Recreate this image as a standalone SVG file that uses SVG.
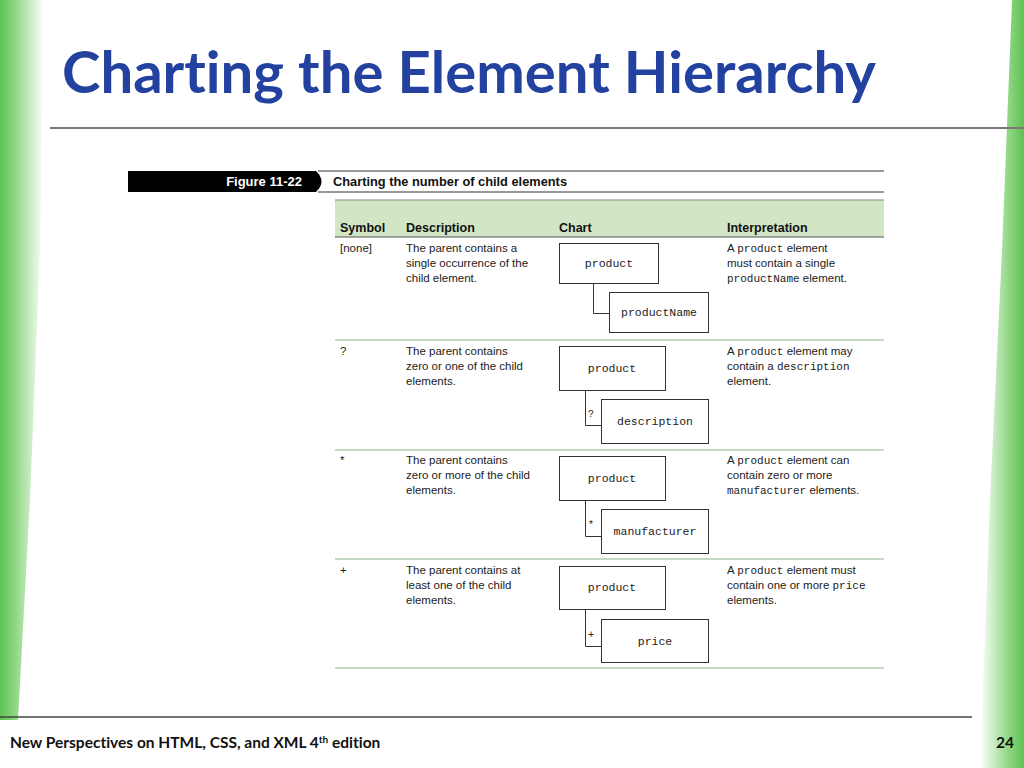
<svg xmlns="http://www.w3.org/2000/svg" width="1024" height="768" viewBox="0 0 1024 768">
<defs>
<linearGradient id="gl" x1="0" y1="0" x2="1" y2="0">
<stop offset="0" stop-color="#5cc24f"/><stop offset="0.35" stop-color="#8fd684"/><stop offset="1" stop-color="#ffffff"/>
</linearGradient>
<linearGradient id="gr" x1="1" y1="0" x2="0" y2="0">
<stop offset="0" stop-color="#5cc24f"/><stop offset="0.35" stop-color="#8fd684"/><stop offset="1" stop-color="#ffffff"/>
</linearGradient>
<style>
text{font-variant-ligatures:none}
.hd{font-family:"Liberation Sans",Arial,sans-serif;font-weight:bold;font-size:12.5px;fill:#111}
.tx{font-family:"Liberation Sans",Arial,sans-serif;font-size:11.5px;fill:#222}
.mn{font-family:"Liberation Mono","Courier New",monospace;font-size:11px;fill:#222}
.bm{font-family:"Liberation Mono","Courier New",monospace;font-size:11.5px;fill:#222;text-anchor:middle}
.box{fill:#fff;stroke:#333;stroke-width:1}
.con{fill:none;stroke:#333;stroke-width:1}
.lb{font-family:"Liberation Mono","Courier New",monospace;font-size:10px;fill:#222}
.sep{stroke:#c9d9c9;stroke-width:2}
</style>
</defs>
<rect width="1024" height="768" fill="#fff"/>
<polygon points="0,0 44,0 40,250 30,500 18,720 0,720" fill="url(#gl)"/>
<polygon points="1024,0 1012,0 1002,250 990,500 980,768 1024,768" fill="url(#gr)"/>
<text x="62" y="93" font-family="Lato,'Open Sans',sans-serif" font-weight="bold" font-size="58" fill="#2342a0" textLength="814" lengthAdjust="spacingAndGlyphs">Charting the Element Hierarchy</text>
<line x1="50" y1="128" x2="1024" y2="128" stroke="#7a7a7a" stroke-width="2"/>
<line x1="0" y1="717" x2="972" y2="717" stroke="#444" stroke-width="1.5"/>
<text x="10" y="748" font-family="Lato,'Liberation Sans',sans-serif" font-weight="bold" font-size="15.5" fill="#111">New Perspectives on HTML, CSS, and XML 4<tspan font-size="10" dy="-5">th</tspan><tspan dy="5"> edition</tspan></text>
<text x="1014" y="748" text-anchor="end" font-family="Lato,'Liberation Sans',sans-serif" font-weight="bold" font-size="15.5" fill="#111">24</text>

<g id="figure-caption">
<line x1="318" y1="171" x2="884" y2="171" stroke="#333" stroke-width="1"/>
<line x1="318" y1="192" x2="884" y2="192" stroke="#333" stroke-width="1"/>
<path d="M128,171 H316 Q327,181.5 316,192 H128 Z" fill="#000"/>
<text x="302" y="186" text-anchor="end" font-family="'Liberation Sans',Arial,sans-serif" font-weight="bold" font-size="13" fill="#fff">Figure 11-22</text>
<text x="333" y="186" font-family="'Liberation Sans',Arial,sans-serif" font-weight="bold" font-size="13" fill="#111" textLength="234" lengthAdjust="spacingAndGlyphs">Charting the number of child elements</text>
</g>

<g id="table-header">
<rect x="335" y="200" width="549" height="37" fill="#d2e5c5"/>
<line x1="335" y1="200" x2="884" y2="200" stroke="#7f8f7f" stroke-width="1"/>
<line x1="335" y1="237" x2="884" y2="237" stroke="#555" stroke-width="1.2"/>
<text class="hd" x="340" y="232">Symbol</text>
<text class="hd" x="406" y="232">Description</text>
<text class="hd" x="559" y="232">Chart</text>
<text class="hd" x="727" y="232">Interpretation</text>
</g>

<g id="row-separators">
<line class="sep" x1="335" y1="340" x2="884" y2="340"/>
<line class="sep" x1="335" y1="450" x2="884" y2="450"/>
<line class="sep" x1="335" y1="559" x2="884" y2="559"/>
<line class="sep" x1="335" y1="668" x2="884" y2="668"/>
</g>

<g id="row-none">
<text class="tx" x="340" y="252">[none]</text>
<text class="tx" x="406" y="252">The parent contains a</text>
<text class="tx" x="406" y="267">single occurrence of the</text>
<text class="tx" x="406" y="282">child element.</text>
<text class="tx" x="727" y="252">A <tspan class="mn">product</tspan> element</text>
<text class="tx" x="727" y="267">must contain a single</text>
<text class="tx" x="727" y="282"><tspan class="mn">productName</tspan> element.</text>
</g>
<g id="node-product-1"><rect class="box" x="559.5" y="243.5" width="99" height="40"/><text class="bm" x="609" y="267">product</text></g>
<g id="node-productName"><rect class="box" x="609.5" y="292.5" width="99" height="40"/><text class="bm" x="659" y="316">productName</text></g>

<g id="row-optional">
<text class="tx" x="340" y="355">?</text>
<text class="tx" x="406" y="355">The parent contains</text>
<text class="tx" x="406" y="370">zero or one of the child</text>
<text class="tx" x="406" y="385">elements.</text>
<text class="tx" x="727" y="355">A <tspan class="mn">product</tspan> element may</text>
<text class="tx" x="727" y="370">contain a <tspan class="mn">description</tspan></text>
<text class="tx" x="727" y="385">element.</text>
</g>
<g id="node-product-2"><rect class="box" x="559.5" y="346.5" width="106" height="44"/><text class="bm" x="612" y="372">product</text></g>
<g id="node-description"><rect class="box" x="601.5" y="399.5" width="107" height="44"/><text class="bm" x="655" y="425">description</text></g>

<g id="row-zero-more">
<text class="tx" x="340" y="464">*</text>
<text class="tx" x="406" y="464">The parent contains</text>
<text class="tx" x="406" y="479">zero or more of the child</text>
<text class="tx" x="406" y="494">elements.</text>
<text class="tx" x="727" y="464">A <tspan class="mn">product</tspan> element can</text>
<text class="tx" x="727" y="479">contain zero or more</text>
<text class="tx" x="727" y="494"><tspan class="mn">manufacturer</tspan> elements.</text>
</g>
<g id="node-product-3"><rect class="box" x="559.5" y="456.5" width="106" height="44"/><text class="bm" x="612" y="482">product</text></g>
<g id="node-manufacturer"><rect class="box" x="601.5" y="509.5" width="107" height="44"/><text class="bm" x="655" y="535">manufacturer</text></g>

<g id="row-one-more">
<text class="tx" x="340" y="574">+</text>
<text class="tx" x="406" y="574">The parent contains at</text>
<text class="tx" x="406" y="589">least one of the child</text>
<text class="tx" x="406" y="604">elements.</text>
<text class="tx" x="727" y="574">A <tspan class="mn">product</tspan> element must</text>
<text class="tx" x="727" y="589">contain one or more <tspan class="mn">price</tspan></text>
<text class="tx" x="727" y="604">elements.</text>
</g>
<g id="node-product-4"><rect class="box" x="559.5" y="566.5" width="106" height="43"/><text class="bm" x="612" y="591">product</text></g>
<g id="node-price"><rect class="box" x="601.5" y="619.5" width="107" height="43"/><text class="bm" x="655" y="645">price</text></g>

<g id="connectors">
<path class="con" d="M593.5,283.5 V313.5 H609.5"/>
<path class="con" d="M585.5,390.5 V425.5 H601.5"/>
<text class="lb" x="588" y="417">?</text>
<path class="con" d="M585.5,500.5 V536.5 H601.5"/>
<text class="lb" x="588" y="528">*</text>
<path class="con" d="M585.5,609.5 V646.5 H601.5"/>
<text class="lb" x="588" y="638">+</text>
</g>
</svg>
